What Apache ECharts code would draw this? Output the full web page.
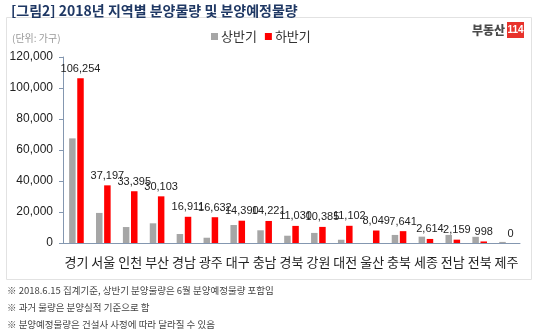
<!DOCTYPE html>
<html><head><meta charset="utf-8">
<script src="https://cdn.jsdelivr.net/npm/echarts@6/dist/echarts.min.js"></script>
<style>html,body{margin:0;padding:0;background:#fff}#c{width:550px;height:335px}</style>
</head><body><div id="c"></div>
<script>
const categories = ['경기','서울','인천','부산','경남','광주','대구','충남','경북','강원','대전','울산','충북','세종','전남','전북','제주'];
const firstHalf = [67500,19400,10300,12700,5800,3400,11600,8200,4700,6500,2100,0,5200,4100,5200,4000,700];
const secondHalf = [106254,37197,33395,30103,16911,16632,14390,14221,11030,10385,11102,8049,7641,2614,2159,998,0];
const yTicks = [0,20000,40000,60000,80000,100000,120000];
const seriesNames = ['상반기','하반기'];
const footnotes = [
  '※ 2018.6.15 집계기준, 상반기 분양물량은 6월 분양예정물량 포함임',
  '※ 과거 물량은 분양실적 기준으로 함',
  '※ 분양예정물량은 건설사 사정에 따라 달라질 수 있음'
];
const KR = '"Noto Sans CJK KR", "Noto Sans", sans-serif';
const chart = echarts.init(document.getElementById('c'), null, {renderer:'canvas'});
chart.setOption({
  animation:false,
  backgroundColor:'#fff',
  title:{text:'[그림2] 2018년 지역별 분양물량 및 분양예정물량', left:6, top:-1,
    textStyle:{fontFamily:KR, fontSize:14, fontWeight:'bold', color:'#1f3864'}},
  graphic:[
    {type:'rect', shape:{x:6.5,y:17.5,width:525,height:262}, style:{fill:'none', stroke:'#e2e2e2', lineWidth:1}, z:-1},
    {type:'text', left:12, top:33, style:{text:'(단위: 가구)', font:'10px '+KR, fill:'#9a9a9a'}},
    {type:'text', x:505, y:30, style:{text:'부동산', font:'900 12px '+KR, fill:'#4a4a4a', align:'right', verticalAlign:'middle'}},
    {type:'rect', shape:{x:507,y:22,width:17,height:16}, style:{fill:'#e8322b'}},
    {type:'text', x:515.5, y:30, style:{text:'114', font:'bold 10px "Liberation Sans Narrow", "Liberation Sans", sans-serif', fill:'#fff', align:'center', verticalAlign:'middle'}},
    {type:'text', left:7, top:286, style:{text:footnotes[0], font:'9.5px '+KR, fill:'#444'}},
    {type:'text', left:7, top:303, style:{text:footnotes[1], font:'9.5px '+KR, fill:'#444'}},
    {type:'text', left:7, top:320, style:{text:footnotes[2], font:'9.5px '+KR, fill:'#444'}}
  ],
  legend:{data:seriesNames, left:206, top:25, itemWidth:7, itemHeight:7, itemGap:8,
    icon:'rect', textStyle:{fontFamily:KR, fontSize:13, color:'#333', padding:[0,0,0,-2]}},
  grid:{left:63, right:30, top:57, bottom:92},
  xAxis:{type:'category', data:categories,
    axisLine:{lineStyle:{color:'#8497b0', width:1}},
    axisTick:{show:false},
    axisLabel:{interval:0, margin:13, fontFamily:KR, fontSize:13, color:'#222'}},
  yAxis:{type:'value', min:0, max:120000, interval:20000,
    axisLine:{show:true, lineStyle:{color:'#8497b0'}},
    axisTick:{show:true, inside:false, length:4, lineStyle:{color:'#8497b0'}},
    splitLine:{show:false},
    axisLabel:{margin:10, fontFamily:'"Liberation Sans", sans-serif', fontSize:12, color:'#222',
      formatter:v=>yTicks.includes(v)?v.toLocaleString('en-US'):''}},
  series:[
    {name:seriesNames[0], type:'bar', data:firstHalf, barWidth:6.5, barGap:'25%',
      itemStyle:{color:'#a6a6a6'}},
    {name:seriesNames[1], type:'bar', data:secondHalf, barWidth:6.5,
      itemStyle:{color:'#ff0000'},
      label:{show:true, position:'top', distance:4, fontFamily:'"Liberation Sans Narrow", "Liberation Sans", sans-serif', fontSize:11, color:'#222',
        formatter:p=>p.value.toLocaleString('en-US')}}
  ]
});
</script></body></html>
